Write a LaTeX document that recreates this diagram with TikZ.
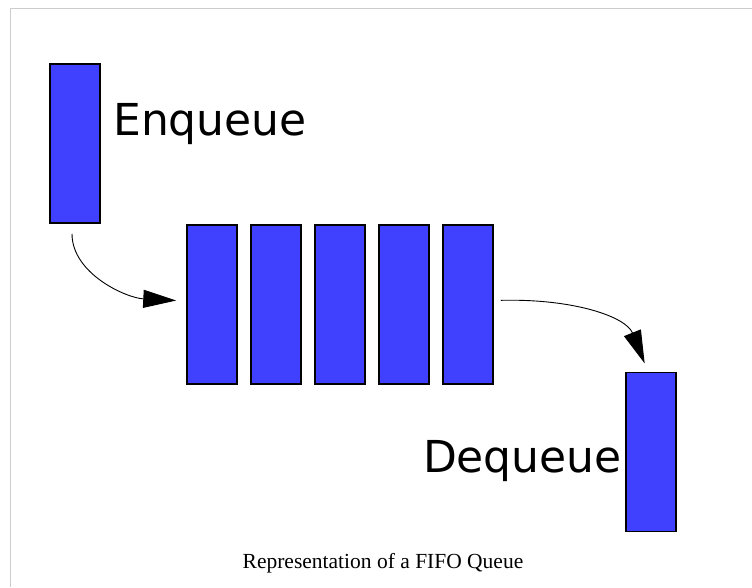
\documentclass[tikz,border=0pt]{standalone}
\usepackage{fontspec}
\setmainfont{Liberation Serif}
\newfontfamily\labelfont{DejaVu Sans}
\usepackage{tikz}
\usetikzlibrary{arrows.meta,positioning}
\definecolor{qblue}{HTML}{4040FF}

\begin{document}
\begin{tikzpicture}[x=1pt,y=-1pt,>={Triangle[length=33pt,width=18pt]}]
    \tikzstyle{qbox} = [shape=rectangle, draw=black, fill=qblue, line width=1.5pt, minimum width=50pt, minimum height=159pt, inner sep=0]
    \tikzstyle{move} = [->, line width=0.9pt, black]
    \tikzstyle{word} = [font=\labelfont\fontsize{44}{50}\selectfont, inner sep=0]
    \useasboundingbox (0,0) rectangle (752,587);
    \draw[black!20, line width=1pt] (10,587) -- (10,8) -- (752,8);

    \node[qbox] (enq) at (75,143.5) {};
    \foreach \i in {1,...,5}
    {
    	\node[qbox] (q\i) at (148+\i*64,304.5) {};
    }
    \node[qbox] (deq) at (651,452) {};

    \node[word, anchor=base west] (enqtext) at (113,135) {Enqueue};
    \node[word, anchor=base east] (deqtext) at (622,472) {Dequeue};

    \draw[move, shorten <=10pt, shorten >=10pt] ([xshift=-3pt]enq.south) .. controls +(0,50) and +(-60,-3) .. ([yshift=3.5pt]q1.west);
    \draw[move, shorten <=7pt, shorten >=9pt] ([yshift=4pt]q5.east) .. controls +(80,-2) and +(-22,-55) .. ([xshift=-3pt]deq.north);

    \node[anchor=base, inner sep=0, font=\fontsize{21.5}{25}\selectfont] (caption) at (383,568) {Representation of a FIFO Queue};
\end{tikzpicture}
\end{document}
